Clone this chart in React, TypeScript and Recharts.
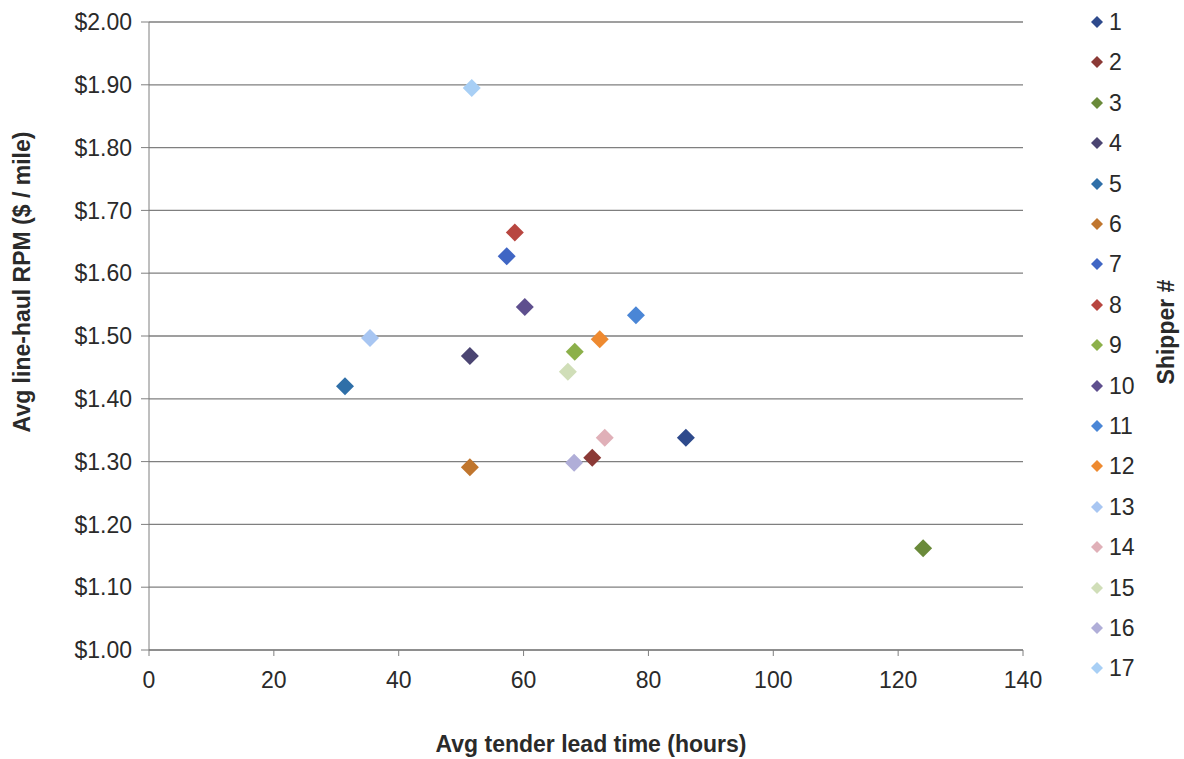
import { ScatterChart, Scatter, XAxis, YAxis, CartesianGrid, Legend } from 'recharts';

const shippers = ['1', '2', '3', '4', '5', '6', '7', '8', '9', '10', '11', '12', '13', '14', '15', '16', '17'];
// avg tender lead time (hours)
const leadTimes = [86, 71, 124, 51.4, 31.4, 51.4, 57.3, 58.6, 68.2, 60.2, 78, 72.2, 35.4, 73, 67.1, 68.1, 51.7];
// avg line-haul RPM ($ / mile)
const rpms = [1.338, 1.306, 1.162, 1.468, 1.42, 1.291, 1.627, 1.665, 1.475, 1.546, 1.533, 1.495, 1.497, 1.338, 1.443, 1.298, 1.895];
const colors = [
  '#2e4a8c', '#8b3a36', '#6a8a3a', '#4b4572', '#2f6fa8', '#c0762e', '#4066c4', '#b84640', '#8cb04a',
  '#5e4f8e', '#4a86d6', '#ee8a30', '#a8c6f2', '#e0b0b8', '#d0deb8', '#b0aed8', '#a8cff5',
];
const xTicks = [0, 20, 40, 60, 80, 100, 120, 140];
const yTicks = [1.0, 1.1, 1.2, 1.3, 1.4, 1.5, 1.6, 1.7, 1.8, 1.9, 2.0];

const FONT = '"Liberation Sans", Arial, sans-serif';
const TEXT = '#2a2a2a';

const Diamond = (props: any) => {
  const { cx, cy, fill } = props;
  if (cx == null || cy == null) return null;
  const r = 9;
  return (
    <polygon
      points={`${cx},${cy - r} ${cx + r},${cy} ${cx},${cy + r} ${cx - r},${cy}`}
      fill={fill}
    />
  );
};

const ShipperLegend = () => (
  <div style={{ position: 'relative', width: 161, height: 680, fontFamily: FONT }}>
    {shippers.map((s, i) => (
      <div
        key={s}
        style={{ position: 'absolute', left: 0, top: i * 40.4 - 14, height: 28, display: 'flex', alignItems: 'center' }}
      >
        <svg width={86} height={28} style={{ display: 'block' }}>
          <polygon points="74,8 80,14 74,20 68,14" fill={colors[i]} />
        </svg>
        <span style={{ fontSize: 23, color: TEXT, lineHeight: '28px' }}>{s}</span>
      </div>
    ))}
    <svg width={161} height={680} style={{ position: 'absolute', left: 0, top: 0, pointerEvents: 'none' }}>
      <text
        x={151}
        y={310}
        transform="rotate(-90, 151, 310)"
        textAnchor="middle"
        fontSize={23}
        fontWeight="bold"
        fill={TEXT}
        fontFamily={FONT}
      >
        Shipper #
      </text>
    </svg>
  </div>
);

const XTitle = (props: any) => {
  const { viewBox } = props;
  const cx = viewBox.x + viewBox.width / 2 + 5;
  return (
    <text x={cx} y={752} textAnchor="middle" fontSize={23} fontWeight="bold" fill={TEXT} fontFamily={FONT}>
      Avg tender lead time (hours)
    </text>
  );
};

const YTitle = () => (
  <text
    x={30}
    y={282}
    transform="rotate(-90, 30, 282)"
    textAnchor="middle"
    fontSize={23}
    fontWeight="bold"
    fill={TEXT}
    fontFamily={FONT}
  >
    Avg line-haul RPM ($ / mile)
  </text>
);

export default function App() {
  return (
    <div style={{ position: 'absolute', left: 0, top: 0, width: 1184, height: 759, background: '#fff' }}>
      <ScatterChart width={1184} height={759} margin={{ top: 22, right: 0, left: 0, bottom: 0 }}>
        <CartesianGrid vertical={false} stroke="#7f7f7f" strokeWidth={1.3} />
        <XAxis
          type="number"
          dataKey="x"
          domain={[0, 140]}
          ticks={xTicks}
          height={109}
          stroke="#7f7f7f"
          tickSize={6}
          tickMargin={16}
          tick={{ fontSize: 23, fill: TEXT, fontFamily: FONT }}
          label={<XTitle />}
        />
        <YAxis
          type="number"
          dataKey="y"
          domain={[1, 2]}
          ticks={yTicks}
          width={149}
          stroke="#7f7f7f"
          tickSize={8}
          tickMargin={9}
          tickFormatter={(v: number) => `$${v.toFixed(2)}`}
          tick={{ fontSize: 23, fill: TEXT, fontFamily: FONT }}
          label={<YTitle />}
        />
        <Legend
          layout="vertical"
          align="right"
          verticalAlign="top"
          width={161}
          content={<ShipperLegend />}
        />
        {shippers.map((s, i) => (
          <Scatter
            key={s}
            name={s}
            data={[{ x: leadTimes[i], y: rpms[i] }]}
            fill={colors[i]}
            shape={<Diamond />}
            isAnimationActive={false}
          />
        ))}
      </ScatterChart>
    </div>
  );
}
